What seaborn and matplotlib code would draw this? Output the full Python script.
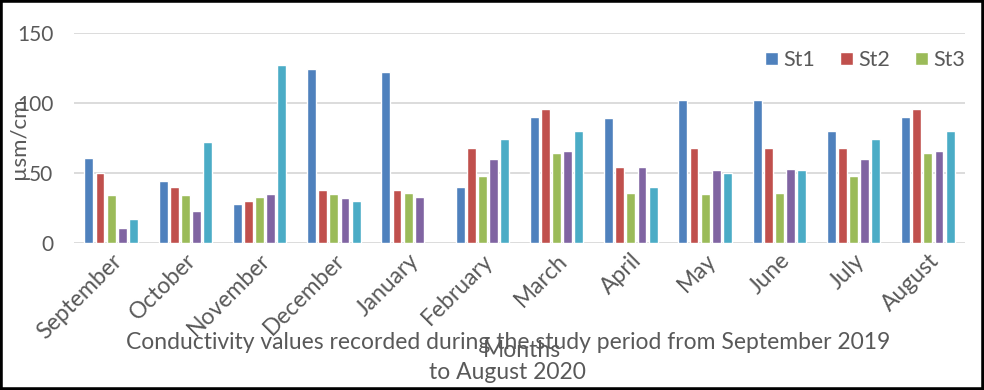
import matplotlib
matplotlib.use("Agg")
import matplotlib.pyplot as plt
import matplotlib.patches as mpatches
import seaborn as sns
import pandas as pd
import numpy as np

months = ["September", "October", "November", "December", "January", "February",
          "March", "April", "May", "June", "July", "August"]
st1 = [61, 44, 28, 124, 122, 40, 90, 89, 102, 102, 80, 90]
st2 = [50, 40, 30, 38, 38, 68, 96, 54, 68, 68, 68, 96]
st3 = [34, 34, 33, 35, 36, 48, 64, 36, 35, 36, 48, 64]
st4 = [11, 23, 35, 32, 33, 60, 66, 54, 52, 53, 60, 66]
st5 = [17, 72, 127, 30, np.nan, 74, 80, 40, 50, 52, 74, 80]
stations = ["St1", "St2", "St3", "St4", "St5"]
legend_labels = ["St1", "St2", "St3"]
colors = ["#4F81BD", "#C0504D", "#9BBB59", "#8064A2", "#4BACC6"]
yticks = [0, 50, 100, 150]
ylabel = "µsm/cm"
xlabel = "Months"
caption = "Conductivity values recorded during the study period from September 2019\nto August 2020"

rows = []
for name, vals in zip(stations, [st1, st2, st3, st4, st5]):
    for m, v in zip(months, vals):
        rows.append({"Month": m, "Station": name, "Value": v})
df = pd.DataFrame(rows)

sns.set_style("white")
plt.rcParams["font.family"] = ["Lato", "DejaVu Sans"]
gray = "#595959"

fig = plt.figure(figsize=(9.84, 3.9), dpi=100)
ax = fig.add_axes([0.0752, 0.3769, 0.9055, 0.5385])

sns.barplot(data=df.dropna(), x="Month", y="Value", hue="Station", order=months,
            hue_order=stations, palette=colors, width=0.75, gap=0.2,
            errorbar=None, ax=ax, saturation=1)

ax.set_ylim(0, 150)
ax.set_xlim(-0.5, len(months) - 0.5)
ax.set_yticks(yticks)
ax.yaxis.grid(True, color="#D9D9D9", linewidth=1.3)
ax.set_axisbelow(True)
for s in ax.spines.values():
    s.set_visible(False)
ax.tick_params(axis="y", length=0, pad=15, labelsize=15, labelcolor=gray)
ax.tick_params(axis="x", length=0, pad=5, labelsize=16.5, labelcolor=gray)
plt.setp(ax.get_xticklabels(), rotation=45, ha="right", rotation_mode="anchor")

ax.set_ylabel(ylabel, fontsize=16, color=gray)
ax.yaxis.set_label_coords(-0.050, 0.5)
ax.set_xlabel(xlabel, fontsize=16.5, color=gray)
ax.xaxis.set_label_coords(0.503, -0.46)

handles, labels = ax.get_legend_handles_labels()
ax.legend(handles[:3], legend_labels, ncol=3, loc="center right",
          bbox_to_anchor=(1.0, 0.871), frameon=False, fontsize=15.5,
          handlelength=0.6, handleheight=0.6, handletextpad=0.25,
          columnspacing=1.15, borderaxespad=0, borderpad=0,
          labelcolor=gray)

fig.text(0.516, 0.083, caption, ha="center", va="center", fontsize=16.5,
         color=gray, linespacing=1.55)

fig.add_artist(mpatches.Rectangle((0, 0), 1, 1, transform=fig.transFigure,
                                  fill=False, edgecolor="black", linewidth=4))

fig.savefig("out.png", dpi=100)
